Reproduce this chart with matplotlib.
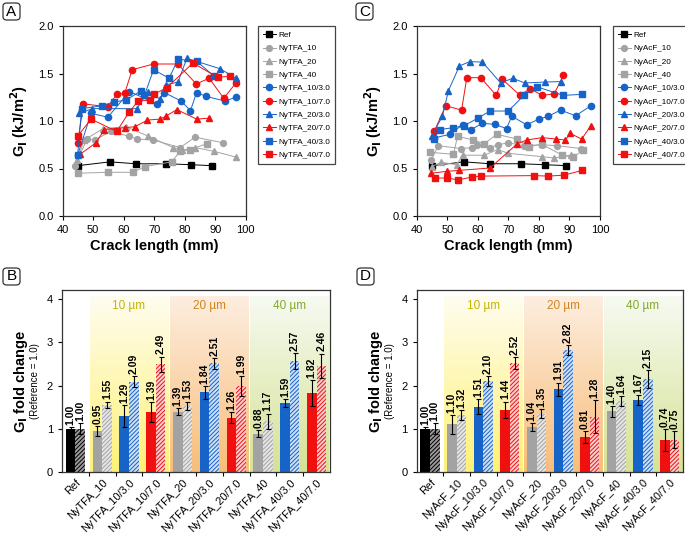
import numpy as np
import matplotlib
matplotlib.use("Agg")
import matplotlib.pyplot as plt
from matplotlib.colors import LinearSegmentedColormap
from matplotlib.patches import FancyBboxPatch

plt.rcParams['font.family'] = ['Liberation Sans', 'DejaVu Sans']
plt.rcParams['hatch.linewidth'] = 0.7

BLACK = "#000000"
GRAY = "#a3a3a3"
BLUE = "#1664c8"
RED = "#f01010"

# ---- panel A: NyTFA R-curves ----
ref_x = [45, 55.5, 64, 74, 82, 89]
ref_y = [0.53, 0.57, 0.55, 0.55, 0.54, 0.53]

tfa10_x = [44, 48, 50.5, 55.7, 61.7, 64.3, 69.7, 78.5, 83.4, 92.7]
tfa10_y = [0.53, 0.81, 0.80, 0.89, 0.84, 0.81, 0.80, 0.72, 0.83, 0.77]
tfa20_x = [44.8, 47, 53.3, 60.7, 68.1, 76.2, 79, 83.5, 89.7, 96.8]
tfa20_y = [0.59, 0.80, 0.92, 0.94, 0.84, 0.72, 0.69, 0.72, 0.68, 0.62]
tfa40_x = [45, 54.8, 63, 67, 75.7, 78.5, 81.7, 87.2]
tfa40_y = [0.45, 0.46, 0.46, 0.52, 0.57, 0.68, 0.70, 0.76]
tfa10_3_x = [44.9, 49.3, 54.8, 61.9, 70.8, 73.3, 78.8, 81.9, 83.9, 86.9, 93.2, 96.8]
tfa10_3_y = [0.64, 1.08, 1.04, 1.31, 1.18, 1.30, 1.21, 1.11, 1.30, 1.26, 1.21, 1.25]
tfa10_7_x = [44.9, 46.8, 54.8, 57.7, 60.3, 62.8, 69.8, 77.7, 83.8, 88.0, 92.8, 96.8]
tfa10_7_y = [0.77, 1.18, 1.15, 1.28, 1.29, 1.54, 1.60, 1.60, 1.39, 1.45, 1.24, 1.40]
tfa20_3_x = [45.4, 49.7, 64.3, 68.0, 71.9, 73.8, 77.8, 80.7, 91.6, 96.8]
tfa20_3_y = [1.08, 1.13, 1.13, 1.31, 1.23, 1.38, 1.41, 1.66, 1.55, 1.45]
tfa20_7_x = [45.7, 50.9, 53.7, 60.4, 63.7, 67.8, 71.9, 73.8, 77.4, 83.9, 88.0]
tfa20_7_y = [0.65, 0.77, 0.91, 0.93, 0.94, 1.01, 1.02, 1.05, 1.12, 1.02, 1.03]
tfa40_3_x = [44.9, 46.2, 52.8, 56.7, 60.8, 65.8, 66.8, 69.8, 74.9, 77.8, 83.9, 89.7]
tfa40_3_y = [0.64, 1.13, 1.16, 1.20, 1.22, 1.32, 1.27, 1.54, 1.45, 1.65, 1.63, 1.47]
tfa40_7_x = [44.9, 49.3, 57.7, 61.7, 64.7, 68.7, 69.8, 74.1, 82.7, 90.8, 94.9]
tfa40_7_y = [0.84, 1.02, 0.89, 1.09, 1.21, 1.22, 1.28, 1.35, 1.61, 1.46, 1.47]

# ---- panel C: NyAcF R-curves ----
acf10_x = [44.7, 47.1, 54.5, 58, 59.6, 64, 66.5, 70, 75, 81, 86, 93.8]
acf10_y = [0.59, 0.74, 0.71, 0.72, 0.75, 0.72, 0.75, 0.77, 0.74, 0.75, 0.74, 0.71]
acf20_x = [44.9, 48, 53.1, 55, 62.1, 66.5, 70, 80.9, 85, 90.4]
acf20_y = [0.52, 0.565, 0.54, 0.64, 0.64, 0.70, 0.66, 0.625, 0.61, 0.64]
acf40_x = [44.4, 52, 53.4, 58.5, 62.1, 66.2, 72.9, 76.7, 80.9, 87.7, 91, 94.5]
acf40_y = [0.67, 0.65, 0.84, 0.80, 0.76, 0.86, 0.81, 0.73, 0.755, 0.64, 0.62, 0.69]
acf10_3_x = [45.5, 50.9, 55, 57.8, 61.5, 65.6, 69.4, 71.1, 76, 80, 83.1, 87.1, 92, 97]
acf10_3_y = [0.82, 0.86, 0.96, 0.91, 0.975, 0.965, 0.92, 1.05, 0.96, 1.02, 1.05, 1.115, 1.055, 1.16]
acf10_7_x = [45.8, 49.5, 54.7, 56.4, 61, 66, 68, 73.8, 77.1, 81.1, 85, 88]
acf10_7_y = [0.895, 1.16, 1.115, 1.456, 1.456, 1.27, 1.44, 1.27, 1.34, 1.27, 1.285, 1.48]
acf20_3_x = [44.9, 48.4, 50.4, 54, 57.4, 61.5, 67.5, 71.4, 75.4, 82, 87.1]
acf20_3_y = [0.84, 1.05, 1.32, 1.58, 1.625, 1.62, 1.40, 1.45, 1.40, 1.41, 1.415]
acf20_7_x = [44.7, 49.8, 53.8, 64, 72.9, 76, 81.1, 85.6, 88.7, 90.2, 94, 97]
acf20_7_y = [0.45, 0.47, 0.48, 0.505, 0.76, 0.80, 0.825, 0.81, 0.80, 0.87, 0.81, 0.95]
acf40_3_x = [45.5, 47.6, 52, 55.5, 60, 64, 70, 75.1, 79.3, 88, 94]
acf40_3_y = [0.81, 0.91, 0.93, 0.95, 1.03, 1.105, 1.105, 1.27, 1.36, 1.27, 1.28]
acf40_7_x = [46, 49.8, 53.6, 58, 61, 78.5, 83.1, 88.2, 94.2]
acf40_7_y = [0.40, 0.40, 0.38, 0.41, 0.42, 0.425, 0.42, 0.43, 0.48]

# ---- panels B / D: fold change ----
tfa_cats = ["Ref", "NyTFA_10", "NyTFA_10/3.0", "NyTFA_10/7.0", "NyTFA_20",
            "NyTFA_20/3.0", "NyTFA_20/7.0", "NyTFA_40", "NyTFA_40/3.0", "NyTFA_40/7.0"]
tfa_solid = [1.00, 0.95, 1.29, 1.39, 1.39, 1.84, 1.26, 0.88, 1.59, 1.82]
tfa_solid_err = [0.03, 0.11, 0.26, 0.23, 0.08, 0.14, 0.12, 0.08, 0.09, 0.30]
tfa_hatch = [1.00, 1.55, 2.09, 2.49, 1.53, 2.51, 1.99, 1.17, 2.57, 2.46]
tfa_hatch_err = [0.13, 0.08, 0.13, 0.18, 0.10, 0.13, 0.23, 0.18, 0.19, 0.28]

acf_cats = ["Ref", "NyAcF_10", "NyAcF_10/3.0", "NyAcF_10/7.0", "NyAcF_20",
            "NyAcF_20/3.0", "NyAcF_20/7.0", "NyAcF_40", "NyAcF_40/3.0", "NyAcF_40/7.0"]
acf_solid = [1.00, 1.10, 1.51, 1.44, 1.04, 1.91, 0.81, 1.40, 1.67, 0.74]
acf_solid_err = [0.03, 0.21, 0.17, 0.19, 0.10, 0.16, 0.13, 0.13, 0.11, 0.25]
acf_hatch = [1.00, 1.32, 2.10, 2.52, 1.35, 2.82, 1.28, 1.64, 2.15, 0.75]
acf_hatch_err = [0.13, 0.12, 0.11, 0.13, 0.11, 0.11, 0.38, 0.11, 0.20, 0.20]

bar_colors = [BLACK, GRAY, BLUE, RED, GRAY, BLUE, RED, GRAY, BLUE, RED]
hatch_bg = ["#9a9a9a", "#e6e6e6", "#cfe0f6", "#fbd0d0", "#e6e6e6", "#cfe0f6", "#fbd0d0",
            "#e6e6e6", "#cfe0f6", "#fbd0d0"]
band_labels = ["10 \u00b5m", "20 \u00b5m", "40 \u00b5m"]
band_text_colors = ["#c8b400", "#d2841c", "#86a82a"]
band_bottom = ["#fff176", "#f8bd78", "#d6e294"]
band_top = ["#fefdf0", "#fdeee0", "#f6faf2"]

fig = plt.figure(figsize=(6.85, 5.34), dpi=100)
W, H = 685.0, 534.0


def px_axes(l, t, r, b):
    return fig.add_axes([l / W, 1 - b / H, (r - l) / W, (b - t) / H])


STYLES = [(BLACK, "s", 4.5), (GRAY, "o", 4.2), (GRAY, "^", 3.8), (GRAY, "s", 4.2),
          (BLUE, "o", 4.5), (RED, "o", 4.5), (BLUE, "^", 4.2), (RED, "^", 4.2),
          (BLUE, "s", 4.5), (RED, "s", 4.5)]


def curve_panel(ax, series, names, leg_left):
    for (x, y), name, (c, m, ms) in zip(series, names, STYLES):
        ax.plot(x, y, color=c, lw=0.7, marker=m, ms=ms, mec=c, mfc=c, label=name)
    ax.set_xlim(40, 100)
    ax.set_ylim(0, 2.0)
    ax.set_xticks(range(40, 101, 10))
    ax.set_yticks(np.arange(0, 2.01, 0.5))
    ax.yaxis.set_major_formatter(plt.FormatStrFormatter("%.1f"))
    ax.tick_params(labelsize=8, length=3, width=0.8)
    ax.set_xlabel("Crack length (mm)", fontsize=10.5, fontweight="bold", labelpad=3)
    ax.set_ylabel("G$_\\mathbf{I}$ (kJ/m$^\\mathbf{2}$)", fontsize=10.5, fontweight="bold", labelpad=6)
    for s in ax.spines.values():
        s.set_linewidth(0.9)
        s.set_color("#333333")
    leg = ax.legend(loc="upper left", bbox_to_anchor=(leg_left / W, 1 - 26 / H),
                    bbox_transform=fig.transFigure, fontsize=5.9, handlelength=1.5,
                    labelspacing=0.68, borderpad=0.65, handletextpad=0.3,
                    fancybox=False, framealpha=1, borderaxespad=0)
    leg.get_frame().set_edgecolor("#444444")
    leg.get_frame().set_linewidth(0.9)


axA = px_axes(62.7, 26, 245.7, 216)
curve_panel(axA,
            [(ref_x, ref_y), (tfa10_x, tfa10_y), (tfa20_x, tfa20_y), (tfa40_x, tfa40_y),
             (tfa10_3_x, tfa10_3_y), (tfa10_7_x, tfa10_7_y), (tfa20_3_x, tfa20_3_y),
             (tfa20_7_x, tfa20_7_y), (tfa40_3_x, tfa40_3_y), (tfa40_7_x, tfa40_7_y)],
            ["Ref", "NyTFA_10", "NyTFA_20", "NyTFA_40", "NyTFA_10/3.0", "NyTFA_10/7.0",
             "NyTFA_20/3.0", "NyTFA_20/7.0", "NyTFA_40/3.0", "NyTFA_40/7.0"], 258)

axC = px_axes(416.7, 26, 600, 216)
curve_panel(axC,
            [(ref_x, ref_y), (acf10_x, acf10_y), (acf20_x, acf20_y), (acf40_x, acf40_y),
             (acf10_3_x, acf10_3_y), (acf10_7_x, acf10_7_y), (acf20_3_x, acf20_3_y),
             (acf20_7_x, acf20_7_y), (acf40_3_x, acf40_3_y), (acf40_7_x, acf40_7_y)],
            ["Ref", "NyAcF_10", "NyAcF_20", "NyAcF_40", "NyAcF_10/3.0", "NyAcF_10/7.0",
             "NyAcF_20/3.0", "NyAcF_20/7.0", "NyAcF_40/3.0", "NyAcF_40/7.0"], 613)


def bar_panel(ax, cats, solid, solid_err, hatch, hatch_err):
    n = len(cats)
    xs = np.arange(n)
    w = 0.36
    grad = np.linspace(1, 0, 256).reshape(-1, 1)
    for k in range(3):
        cmap = LinearSegmentedColormap.from_list("b%d" % k, [band_bottom[k], band_top[k]])
        x0 = 1 + 3 * k - 0.5 + 0.03
        ax.imshow(grad, cmap=cmap, extent=(x0, x0 + 3 - 0.06, 0, 4.05), aspect="auto",
                  zorder=0, origin="upper")
        ax.text(x0 + 1.47, 3.85, band_labels[k], color=band_text_colors[k], fontsize=8.5,
                ha="center", va="center")
    for i in xs:
        c = bar_colors[i]
        ax.bar(i - w / 2, solid[i], w, color=c, zorder=2)
        ax.bar(i + w / 2, hatch[i], w, facecolor=hatch_bg[i], edgecolor=c,
               hatch="////////", lw=0, zorder=2)
        ax.errorbar([i - w / 2, i + w / 2], [solid[i], hatch[i]],
                    yerr=[solid_err[i], hatch_err[i]], fmt="none", ecolor="black",
                    elinewidth=0.8, capsize=1.8, capthick=0.8, zorder=3)
        ax.text(i - w / 2, solid[i] + solid_err[i] + 0.05, "%.2f" % solid[i], rotation=90,
                ha="center", va="bottom", fontsize=7.5, fontweight="bold")
        ax.text(i + w / 2, hatch[i] + hatch_err[i] + 0.05, "%.2f" % hatch[i], rotation=90,
                ha="center", va="bottom", fontsize=7.5, fontweight="bold")
    ax.set_xlim(-0.5, n - 0.5)
    ax.set_ylim(0, 4.21)
    ax.set_yticks([0, 1, 2, 3, 4])
    ax.set_xticks(xs)
    ax.set_xticklabels(cats, rotation=45, ha="right", rotation_mode="anchor", fontsize=7.8)
    ax.set_xticks(np.arange(0.5, n - 0.5, 1), minor=True)
    ax.tick_params(axis="x", which="major", length=0, pad=4)
    ax.tick_params(axis="x", which="minor", length=3, width=0.8)
    ax.tick_params(axis="y", labelsize=8, length=3, width=0.8)
    for s in ax.spines.values():
        s.set_linewidth(0.9)
        s.set_color("#333333")
    wpx = ax.get_position().width * W
    ax.text(-41 / wpx, 0.5, "G$_\\mathbf{I}$ fold change", rotation=90, transform=ax.transAxes,
            ha="center", va="center", fontsize=10.5, fontweight="bold")
    ax.text(-27 / wpx, 0.5, "(Reference = 1.0)", rotation=90, transform=ax.transAxes,
            ha="center", va="center", fontsize=7)


axB = px_axes(62, 290, 330, 472)
bar_panel(axB, tfa_cats, tfa_solid, tfa_solid_err, tfa_hatch, tfa_hatch_err)
axD = px_axes(416.7, 290, 683, 472)
bar_panel(axD, acf_cats, acf_solid, acf_solid_err, acf_hatch, acf_hatch_err)

# panel letters in rounded boxes
for letter, (lx, ly) in zip("ABCD", [(3, 3), (3, 268), (356, 3), (357, 268)]):
    box = FancyBboxPatch((lx / W, 1 - (ly + 17) / H), 17 / W, 17 / H,
                         boxstyle="round,pad=0,rounding_size=0.006",
                         transform=fig.transFigure, facecolor="white",
                         edgecolor="#333333", lw=0.9)
    fig.patches.append(box)
    fig.text((lx + 8.5) / W, 1 - (ly + 8.5) / H, letter, ha="center", va="center",
             fontsize=11)

fig.savefig("out.png", dpi=100)
